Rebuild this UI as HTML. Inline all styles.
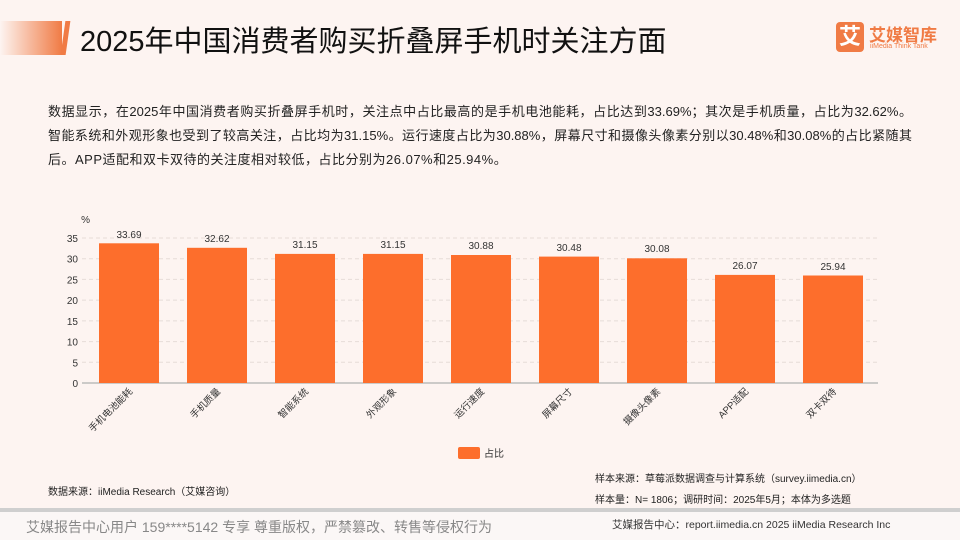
<!DOCTYPE html>
<html><head><meta charset="utf-8"><style>
body{margin:0;width:960px;height:540px;background:#fdf4f1;font-family:"Liberation Sans","Noto Sans CJK SC",sans-serif;position:relative;overflow:hidden;color:#333}
.t{position:absolute;white-space:nowrap}
.pl{position:absolute;left:48px;width:864px;font-size:13px;color:#222;white-space:nowrap;text-align:justify;text-align-last:justify}
</style></head><body>
<div style="position:absolute;left:0;top:21px;width:62px;height:34px;background:linear-gradient(90deg,rgba(240,120,70,0),#f07b45)"></div>
<div style="position:absolute;left:63px;top:21px;width:5px;height:34px;background:#f07b45;transform:skewX(-8deg)"></div>
<div class="t" style="left:80px;top:18px;font-size:29px;color:#111">2025年中国消费者购买折叠屏手机时关注方面</div>
<div style="position:absolute;left:836px;top:22px;width:28px;height:30px;background:#f07b45;border-radius:4px;color:#fff;font-size:22px;text-align:center;line-height:30px;font-weight:bold">艾</div>
<div class="t" style="left:869px;top:21px;font-size:17px;color:#f07b45;font-weight:bold">艾媒智库</div>
<div class="t" style="left:870px;top:43px;font-size:7px;color:#f07b45">iiMedia Think Tank</div>
<div class="pl" style="top:101px">数据显示，在2025年中国消费者购买折叠屏手机时，关注点中占比最高的是手机电池能耗，占比达到33.69%；其次是手机质量，占比为32.62%。</div>
<div class="pl" style="top:125px">智能系统和外观形象也受到了较高关注，占比均为31.15%。运行速度占比为30.88%，屏幕尺寸和摄像头像素分别以30.48%和30.08%的占比紧随其</div>
<div class="t" style="left:48px;top:149px;font-size:13px;color:#222;letter-spacing:0.5px">后。APP适配和双卡双待的关注度相对较低，占比分别为26.07%和25.94%。</div>
<svg style="position:absolute;left:0;top:0" width="960" height="540" font-family="Liberation Sans,Noto Sans CJK SC,sans-serif">
<g stroke="#e6dcd8" stroke-dasharray="4,3">
<line x1="82" x2="878" y1="238" y2="238"/><line x1="82" x2="878" y1="258.7" y2="258.7"/><line x1="82" x2="878" y1="279.4" y2="279.4"/><line x1="82" x2="878" y1="300.1" y2="300.1"/><line x1="82" x2="878" y1="320.9" y2="320.9"/><line x1="82" x2="878" y1="341.6" y2="341.6"/><line x1="82" x2="878" y1="362.3" y2="362.3"/>
</g>
<line x1="82" x2="878" y1="383" y2="383" stroke="#bbb" stroke-width="1.5"/>
<g font-size="10" fill="#333" text-anchor="end">
<text x="78" y="242">35</text><text x="78" y="262.7">30</text><text x="78" y="283.4">25</text><text x="78" y="304.1">20</text><text x="78" y="324.9">15</text><text x="78" y="345.6">10</text><text x="78" y="366.3">5</text><text x="78" y="387">0</text>
<text x="90" y="223">%</text>
</g>
<g fill="#fd6e2c">
<rect x="99" y="243.3" width="60" height="139.7"/>
<rect x="187" y="247.8" width="60" height="135.2"/>
<rect x="275" y="253.9" width="60" height="129.1"/>
<rect x="363" y="253.9" width="60" height="129.1"/>
<rect x="451" y="255" width="60" height="128"/>
<rect x="539" y="256.6" width="60" height="126.4"/>
<rect x="627" y="258.3" width="60" height="124.7"/>
<rect x="715" y="274.9" width="60" height="108.1"/>
<rect x="803" y="275.5" width="60" height="107.5"/>
</g>
<g font-size="10" fill="#333" text-anchor="middle">
<text x="129" y="238">33.69</text><text x="217" y="242">32.62</text><text x="305" y="248">31.15</text><text x="393" y="248">31.15</text><text x="481" y="249">30.88</text><text x="569" y="251">30.48</text><text x="657" y="252">30.08</text><text x="745" y="269">26.07</text><text x="833" y="270">25.94</text>
</g>
<g font-size="9.5" fill="#333" text-anchor="end">
<text transform="translate(133,392) rotate(-45)">手机电池能耗</text>
<text transform="translate(221,392) rotate(-45)">手机质量</text>
<text transform="translate(309,392) rotate(-45)">智能系统</text>
<text transform="translate(397,392) rotate(-45)">外观形象</text>
<text transform="translate(485,392) rotate(-45)">运行速度</text>
<text transform="translate(573,392) rotate(-45)">屏幕尺寸</text>
<text transform="translate(661,392) rotate(-45)">摄像头像素</text>
<text transform="translate(749,392) rotate(-45)">APP适配</text>
<text transform="translate(837,392) rotate(-45)">双卡双待</text>
</g>
<rect x="458" y="447" width="22" height="12" rx="2" fill="#fd6e2c"/>
<text x="484" y="457" font-size="10" fill="#333">占比</text>
</svg>
<div class="t" style="left:48px;top:483px;font-size:10px;color:#222">数据来源：iiMedia Research（艾媒咨询）</div>
<div class="t" style="left:595px;top:470px;font-size:10px;color:#222">样本来源：草莓派数据调查与计算系统（survey.iimedia.cn）</div>
<div class="t" style="left:595px;top:491px;font-size:10px;color:#222">样本量：N= 1806；调研时间：2025年5月；本体为多选题</div>
<div style="position:absolute;left:0;top:508px;width:960px;height:4px;background:#cfcfcf"></div>
<div style="position:absolute;left:0;top:512px;width:960px;height:28px;background:#fbf7f6"></div>
<div class="t" style="left:26px;top:517px;font-size:14px;color:#888">艾媒报告中心用户 159****5142 专享 尊重版权，严禁篡改、转售等侵权行为</div>
<div class="t" style="left:612px;top:517px;font-size:10.5px;color:#333">艾媒报告中心：report.iimedia.cn  2025 iiMedia Research Inc</div>
</body></html>
